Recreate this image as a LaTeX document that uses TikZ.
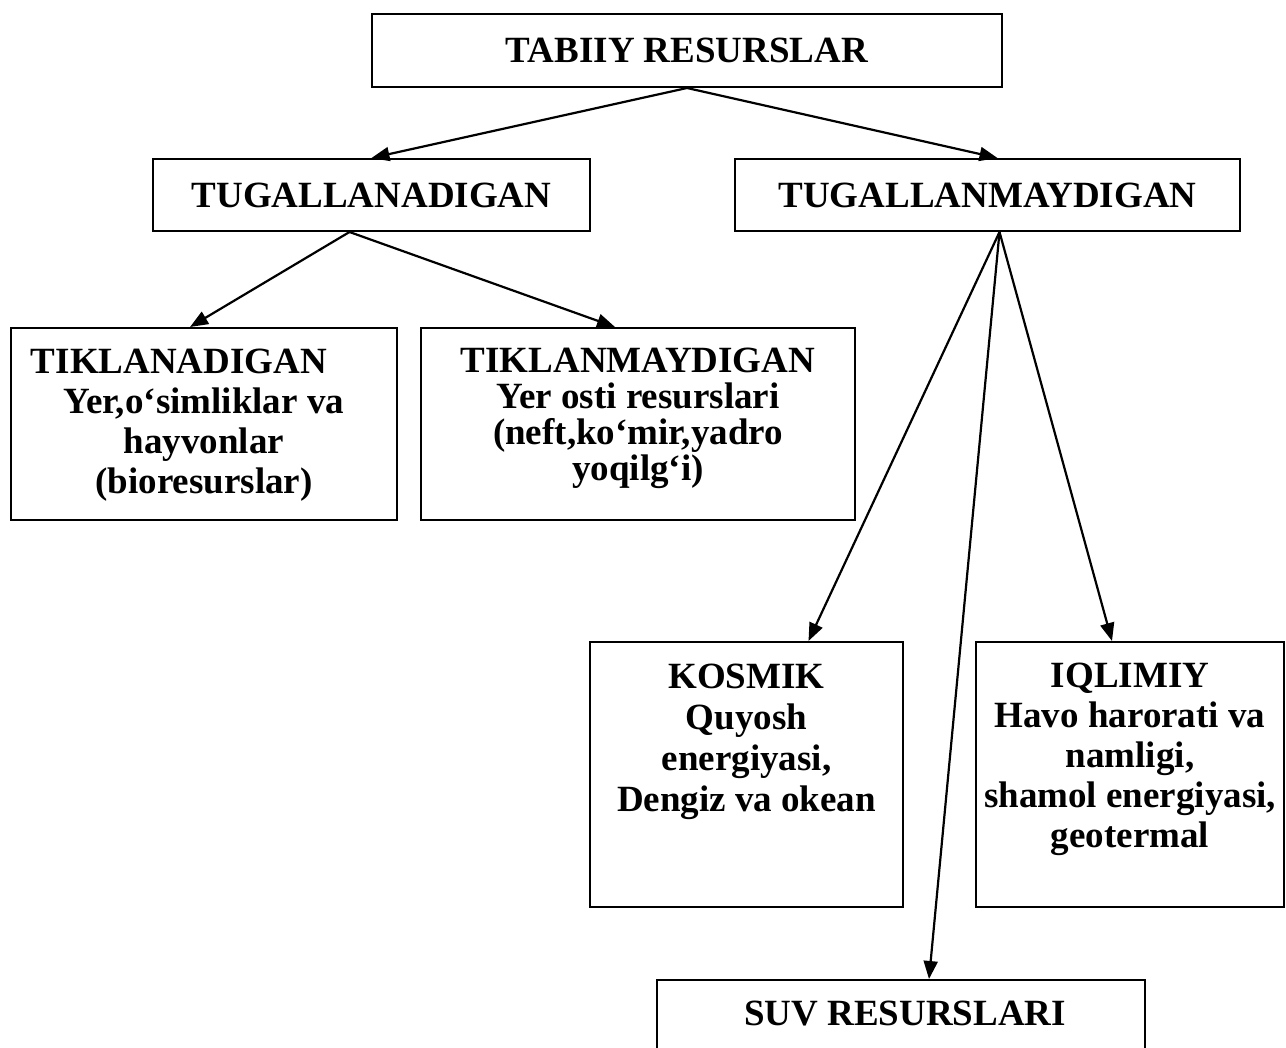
\documentclass[tikz,border=0pt]{standalone}
\usepackage{fontspec}
\setmainfont{Liberation Serif}
\usetikzlibrary{positioning,arrows.meta}

\tikzset{
  box/.style={draw, line width=1pt, inner sep=0pt, align=center,
    font=\fontsize{18.5}{20}\selectfont\bfseries},
  lbl/.style={inner sep=0pt, align=center, anchor=north,
    font=\fontsize{18.5}{20.5}\selectfont\bfseries},
  arr/.style={line width=1.1pt, -{Triangle[length=9pt,width=7pt]}}
}

\begin{document}
\begin{tikzpicture}[x=0.5pt, y=-0.5pt]

\useasboundingbox (0,0) rectangle (1286,1048);
\clip (0,0) rectangle (1286,1048);

% top level
\node[box, minimum width=315pt, minimum height=36.5pt] (tabiiy) at (687, 50.5) {TABIIY RESURSLAR};

\node[box, minimum width=218.5pt, minimum height=36pt] (tug) at (371.5, 195) {TUGALLANADIGAN};
\node[box, minimum width=252.5pt, minimum height=36pt] (tugm) at (987.5, 195) {TUGALLANMAYDIGAN};

% tugallanadigan
\node[box, minimum width=193pt, minimum height=96pt] (tik) at (204, 424) {};
\node[lbl, yshift=-11pt, font=\fontsize{18.5}{20}\selectfont\bfseries] (tiktxt) at (tik.north)
  {TIKLANADIGAN\kern25pt\\ Yer,o‘simliklar va\\ hayvonlar\\ (bioresurslar)};
\node[box, minimum width=217pt, minimum height=96pt] (tikm) at (638, 424) {};
\node[lbl, yshift=-10.25pt, font=\fontsize{18.5}{18}\selectfont\bfseries] (tikmtxt) at (tikm.north)
  {TIKLANMAYDIGAN\\ Yer osti resurslari\\ (neft,ko‘mir,yadro\\ yoqilg‘i)};

% tugallanmaydigan
\node[box, minimum width=156.5pt, minimum height=132.5pt] (kosmik) at (746.5, 774.5) {};
\node[lbl, yshift=-11.5pt] (kosmiktxt) at (kosmik.north) {KOSMIK\\ Quyosh\\ energiyasi,\\ Dengiz va okean};

\node[box, minimum width=154pt, minimum height=132.5pt] (iqlimiy) at (1130, 774.5) {};
\node[lbl, yshift=-11pt, font=\fontsize{18.5}{20}\selectfont\bfseries] (iqlimiytxt) at (iqlimiy.north)
  {IQLIMIY\\ Havo harorati va\\ namligi,\\ shamol energiyasi,\\ geotermal};

\node[box, minimum width=244pt, minimum height=45pt] (suv) at (901, 1025) {};
\node[lbl, yshift=-11pt, xshift=2pt] (suvtxt) at (suv.north) {SUV RESURSLARI};

% arrows
\draw[arr] (tabiiy.south) -- (tug.north);
\draw[arr] (tabiiy.south) -- ([xshift=5pt]tugm.north);

\draw[arr] ([xshift=-11pt]tug.south) -- ([xshift=-7pt]tik.north);
\draw[arr] ([xshift=-11pt]tug.south) -- ([xshift=-11.5pt]tikm.north);

\draw[arr] ([xshift=6pt]tugm.south) -- ([xshift=31pt]kosmik.north);
\draw[arr] ([xshift=6pt]tugm.south) -- ([xshift=-9pt]iqlimiy.north);
\draw[arr] ([xshift=6pt]tugm.south) -- ([xshift=14pt]suv.north);

\end{tikzpicture}
\end{document}
